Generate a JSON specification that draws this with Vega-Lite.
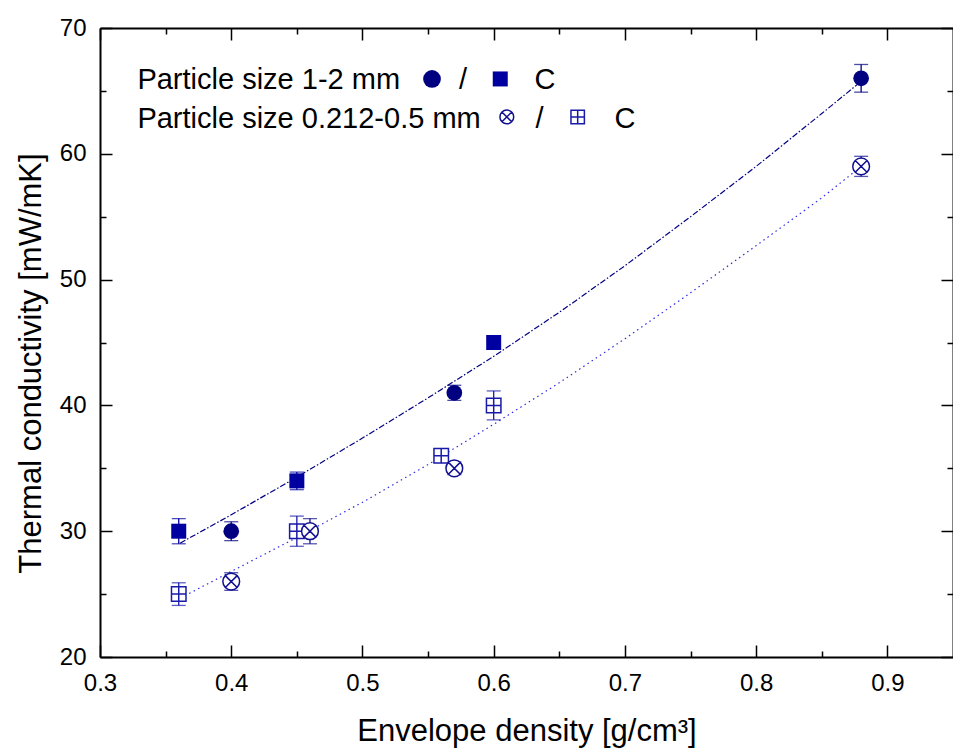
{
  "$schema": "https://vega.github.io/schema/vega-lite/v6.json",
  "width": 853,
  "height": 629,
  "autosize": "none",
  "padding": {"left": 100, "top": 28, "right": 0, "bottom": 94},
  "background": "white",
  "config": {
    "view": {"stroke": null},
    "font": "Liberation Sans",
    "axis": {
      "domainColor": "black", "domainWidth": 2, "tickColor": "black", "tickWidth": 1.5,
      "labelColor": "black", "labelFontSize": 24, "labelFont": "Liberation Sans",
      "titleFontSize": 31, "titleFontWeight": "normal", "titleColor": "black", "titleFont": "Liberation Sans",
      "grid": false, "labelFlush": false, "labelOverlap": false
    }
  },
  "datasets": {
    "points": [
      {"density": 0.40, "conductivity": 30, "err": 0.75, "series": "1-2 mm"},
      {"density": 0.57, "conductivity": 41, "err": 0.6, "series": "1-2 mm"},
      {"density": 0.88, "conductivity": 66, "err": 1.1, "series": "1-2 mm"},
      {"density": 0.36, "conductivity": 30, "err": 1.0, "series": "1-2 mm C"},
      {"density": 0.45, "conductivity": 34, "err": 0.7, "series": "1-2 mm C"},
      {"density": 0.60, "conductivity": 45, "err": 0.4, "series": "1-2 mm C"},
      {"density": 0.40, "conductivity": 26, "err": 0.7, "series": "0.212-0.5 mm"},
      {"density": 0.46, "conductivity": 30, "err": 1.0, "series": "0.212-0.5 mm"},
      {"density": 0.57, "conductivity": 35, "err": 0.5, "series": "0.212-0.5 mm"},
      {"density": 0.88, "conductivity": 59, "err": 0.8, "series": "0.212-0.5 mm"},
      {"density": 0.36, "conductivity": 25, "err": 0.9, "series": "0.212-0.5 mm C"},
      {"density": 0.45, "conductivity": 30, "err": 1.2, "series": "0.212-0.5 mm C"},
      {"density": 0.56, "conductivity": 36, "err": 0.4, "series": "0.212-0.5 mm C"},
      {"density": 0.60, "conductivity": 40, "err": 1.15, "series": "0.212-0.5 mm C"}
    ],
    "curves": [
      {"density": 0.361, "conductivity": 29.05, "fit": "1-2 mm"},
      {"density": 0.40, "conductivity": 31.3, "fit": "1-2 mm"},
      {"density": 0.45, "conductivity": 34.3, "fit": "1-2 mm"},
      {"density": 0.50, "conductivity": 37.4, "fit": "1-2 mm"},
      {"density": 0.55, "conductivity": 40.6, "fit": "1-2 mm"},
      {"density": 0.60, "conductivity": 43.9, "fit": "1-2 mm"},
      {"density": 0.65, "conductivity": 47.4, "fit": "1-2 mm"},
      {"density": 0.70, "conductivity": 51.1, "fit": "1-2 mm"},
      {"density": 0.75, "conductivity": 55.0, "fit": "1-2 mm"},
      {"density": 0.80, "conductivity": 59.0, "fit": "1-2 mm"},
      {"density": 0.85, "conductivity": 63.2, "fit": "1-2 mm"},
      {"density": 0.877, "conductivity": 65.5, "fit": "1-2 mm"},
      {"density": 0.368, "conductivity": 25.05, "fit": "0.212-0.5 mm"},
      {"density": 0.40, "conductivity": 26.8, "fit": "0.212-0.5 mm"},
      {"density": 0.45, "conductivity": 29.5, "fit": "0.212-0.5 mm"},
      {"density": 0.50, "conductivity": 32.3, "fit": "0.212-0.5 mm"},
      {"density": 0.55, "conductivity": 35.3, "fit": "0.212-0.5 mm"},
      {"density": 0.60, "conductivity": 38.5, "fit": "0.212-0.5 mm"},
      {"density": 0.65, "conductivity": 41.8, "fit": "0.212-0.5 mm"},
      {"density": 0.70, "conductivity": 45.3, "fit": "0.212-0.5 mm"},
      {"density": 0.75, "conductivity": 48.95, "fit": "0.212-0.5 mm"},
      {"density": 0.80, "conductivity": 52.7, "fit": "0.212-0.5 mm"},
      {"density": 0.85, "conductivity": 56.5, "fit": "0.212-0.5 mm"},
      {"density": 0.874, "conductivity": 58.5, "fit": "0.212-0.5 mm"}
    ]
  },
  "resolve": {"axis": {"x": "independent", "y": "independent"}},
  "layer": [
    {
      "data": {"name": "curves"},
      "transform": [{"filter": "datum.fit == '1-2 mm'"}],
      "mark": {"type": "line", "color": "#000080", "strokeWidth": 1.2, "strokeDash": [6, 2, 1.5, 2]},
      "encoding": {
        "x": {
          "field": "density", "type": "quantitative",
          "scale": {"domain": [0.3, 0.95], "nice": false, "zero": false},
          "axis": {
            "orient": "bottom",
            "values": [0.3, 0.35, 0.4, 0.45, 0.5, 0.55, 0.6, 0.65, 0.7, 0.75, 0.8, 0.85, 0.9],
            "labelExpr": "abs(datum.value*10 - round(datum.value*10)) < 0.001 ? format(datum.value, '.1f') : ''",
            "tickSize": {"condition": {"test": "abs(datum.value*10 - round(datum.value*10)) < 0.001", "value": -12}, "value": -6},
            "labelPadding": 26,
            "title": "Envelope density [g/cm³]",
            "titlePadding": 15
          }
        },
        "y": {
          "field": "conductivity", "type": "quantitative",
          "scale": {"domain": [20, 70], "nice": false, "zero": false},
          "axis": {
            "orient": "left",
            "values": [20, 25, 30, 35, 40, 45, 50, 55, 60, 65, 70],
            "labelExpr": "datum.value % 10 == 0 ? datum.label : ''",
            "tickSize": {"condition": {"test": "datum.value % 10 == 0", "value": -12}, "value": -6},
            "labelPadding": 26,
            "title": "Thermal conductivity [mW/mK]",
            "titlePadding": 12,
            "titleY": 335
          }
        }
      }
    },
    {
      "data": {"name": "curves"},
      "transform": [{"filter": "datum.fit == '0.212-0.5 mm'"}],
      "mark": {"type": "line", "color": "#2a2ae6", "strokeWidth": 1.2, "strokeDash": [1.5, 3.5]},
      "encoding": {
        "x": {
          "field": "density", "type": "quantitative",
          "axis": {
            "orient": "top",
            "values": [0.3, 0.35, 0.4, 0.45, 0.5, 0.55, 0.6, 0.65, 0.7, 0.75, 0.8, 0.85, 0.9],
            "labels": false,
            "tickSize": {"condition": {"test": "abs(datum.value*10 - round(datum.value*10)) < 0.001", "value": -12}, "value": -6},
            "title": null
          }
        },
        "y": {
          "field": "conductivity", "type": "quantitative",
          "axis": {
            "orient": "right",
            "values": [20, 25, 30, 35, 40, 45, 50, 55, 60, 65, 70],
            "labels": false,
            "tickSize": {"condition": {"test": "datum.value % 10 == 0", "value": -12}, "value": -6},
            "title": null
          }
        }
      }
    },
    {
      "data": {"name": "points"},
      "mark": {"type": "errorbar", "ticks": {"size": 14, "thickness": 1.3}, "thickness": 1.3},
      "encoding": {
        "x": {"field": "density", "type": "quantitative", "axis": null},
        "y": {"field": "conductivity", "type": "quantitative", "axis": null},
        "yError": {"field": "err"},
        "color": {
          "field": "series", "type": "nominal", "legend": null,
          "scale": {"domain": ["1-2 mm", "1-2 mm C", "0.212-0.5 mm", "0.212-0.5 mm C"], "range": ["#000080", "#0000a0", "#101090", "#1a1aa8"]}
        }
      }
    },
    {
      "data": {"name": "points"},
      "transform": [{"filter": "datum.series == '1-2 mm'"}],
      "mark": {"type": "point", "shape": "circle", "filled": true, "size": 246, "color": "#000080", "opacity": 1},
      "encoding": {
        "x": {"field": "density", "type": "quantitative", "axis": null},
        "y": {"field": "conductivity", "type": "quantitative", "axis": null}
      }
    },
    {
      "data": {"name": "points"},
      "transform": [{"filter": "datum.series == '1-2 mm C'"}],
      "mark": {"type": "point", "shape": "square", "filled": true, "size": 225, "color": "#0000a0", "opacity": 1},
      "encoding": {
        "x": {"field": "density", "type": "quantitative", "axis": null},
        "y": {"field": "conductivity", "type": "quantitative", "axis": null}
      }
    },
    {
      "data": {"name": "points"},
      "transform": [{"filter": "datum.series == '0.212-0.5 mm C'"}],
      "mark": {"type": "point", "shape": "M-1,-1H1V1H-1ZM0,-1V1M-1,0H1", "filled": true, "fill": "white", "size": 210, "stroke": "#1a1aa8", "strokeWidth": 1.5, "opacity": 1, "fillOpacity": 1},
      "encoding": {
        "x": {"field": "density", "type": "quantitative", "axis": null},
        "y": {"field": "conductivity", "type": "quantitative", "axis": null}
      }
    },
    {
      "data": {"name": "points"},
      "transform": [{"filter": "datum.series == '0.212-0.5 mm'"}],
      "mark": {"type": "point", "shape": "M1,0A1,1,0,1,1,-1,0A1,1,0,1,1,1,0ZM-0.707,-0.707L0.707,0.707M-0.707,0.707L0.707,-0.707", "filled": true, "fill": "white", "size": 280, "stroke": "#101090", "strokeWidth": 1.5, "opacity": 1, "fillOpacity": 1},
      "encoding": {
        "x": {"field": "density", "type": "quantitative", "axis": null},
        "y": {"field": "conductivity", "type": "quantitative", "axis": null}
      }
    },
    {
      "data": {"values": [{}]},
      "mark": {"type": "text", "align": "left", "baseline": "middle", "fontSize": 29, "color": "black"},
      "encoding": {
        "x": {"datum": 0.3285, "type": "quantitative", "axis": null},
        "y": {"datum": 65.85, "type": "quantitative", "axis": null},
        "text": {"value": "Particle size 1-2 mm"}
      }
    },
    {
      "data": {"values": [{}]},
      "mark": {"type": "text", "align": "left", "baseline": "middle", "fontSize": 29, "color": "black"},
      "encoding": {
        "x": {"datum": 0.3285, "type": "quantitative", "axis": null},
        "y": {"datum": 62.8, "type": "quantitative", "axis": null},
        "text": {"value": "Particle size 0.212-0.5 mm"}
      }
    },
    {
      "data": {"values": [{}]},
      "mark": {"type": "point", "shape": "circle", "filled": true, "size": 314, "color": "#000080", "opacity": 1},
      "encoding": {
        "x": {"datum": 0.553, "type": "quantitative", "axis": null},
        "y": {"datum": 65.95, "type": "quantitative", "axis": null}
      }
    },
    {
      "data": {"values": [{}]},
      "mark": {"type": "point", "shape": "square", "filled": true, "size": 225, "color": "#0000a0", "opacity": 1},
      "encoding": {
        "x": {"datum": 0.605, "type": "quantitative", "axis": null},
        "y": {"datum": 65.95, "type": "quantitative", "axis": null}
      }
    },
    {
      "data": {"values": [{}]},
      "mark": {"type": "point", "shape": "M1,0A1,1,0,1,1,-1,0A1,1,0,1,1,1,0ZM-0.707,-0.707L0.707,0.707M-0.707,0.707L0.707,-0.707", "filled": false, "size": 190, "stroke": "#101090", "strokeWidth": 1.5, "opacity": 1},
      "encoding": {
        "x": {"datum": 0.610, "type": "quantitative", "axis": null},
        "y": {"datum": 62.93, "type": "quantitative", "axis": null}
      }
    },
    {
      "data": {"values": [{}]},
      "mark": {"type": "point", "shape": "M-1,-1H1V1H-1ZM0,-1V1M-1,0H1", "filled": false, "size": 180, "stroke": "#1a1aa8", "strokeWidth": 1.5, "opacity": 1},
      "encoding": {
        "x": {"datum": 0.664, "type": "quantitative", "axis": null},
        "y": {"datum": 62.93, "type": "quantitative", "axis": null}
      }
    },
    {
      "data": {"values": [{}]},
      "mark": {"type": "text", "align": "center", "baseline": "middle", "fontSize": 29, "color": "black"},
      "encoding": {
        "x": {"datum": 0.5767, "type": "quantitative", "axis": null},
        "y": {"datum": 65.85, "type": "quantitative", "axis": null},
        "text": {"value": "/"}
      }
    },
    {
      "data": {"values": [{}]},
      "mark": {"type": "text", "align": "center", "baseline": "middle", "fontSize": 29, "color": "black"},
      "encoding": {
        "x": {"datum": 0.639, "type": "quantitative", "axis": null},
        "y": {"datum": 65.85, "type": "quantitative", "axis": null},
        "text": {"value": "C"}
      }
    },
    {
      "data": {"values": [{}]},
      "mark": {"type": "text", "align": "center", "baseline": "middle", "fontSize": 29, "color": "black"},
      "encoding": {
        "x": {"datum": 0.635, "type": "quantitative", "axis": null},
        "y": {"datum": 62.8, "type": "quantitative", "axis": null},
        "text": {"value": "/"}
      }
    },
    {
      "data": {"values": [{}]},
      "mark": {"type": "text", "align": "center", "baseline": "middle", "fontSize": 29, "color": "black"},
      "encoding": {
        "x": {"datum": 0.700, "type": "quantitative", "axis": null},
        "y": {"datum": 62.8, "type": "quantitative", "axis": null},
        "text": {"value": "C"}
      }
    }
  ]
}
